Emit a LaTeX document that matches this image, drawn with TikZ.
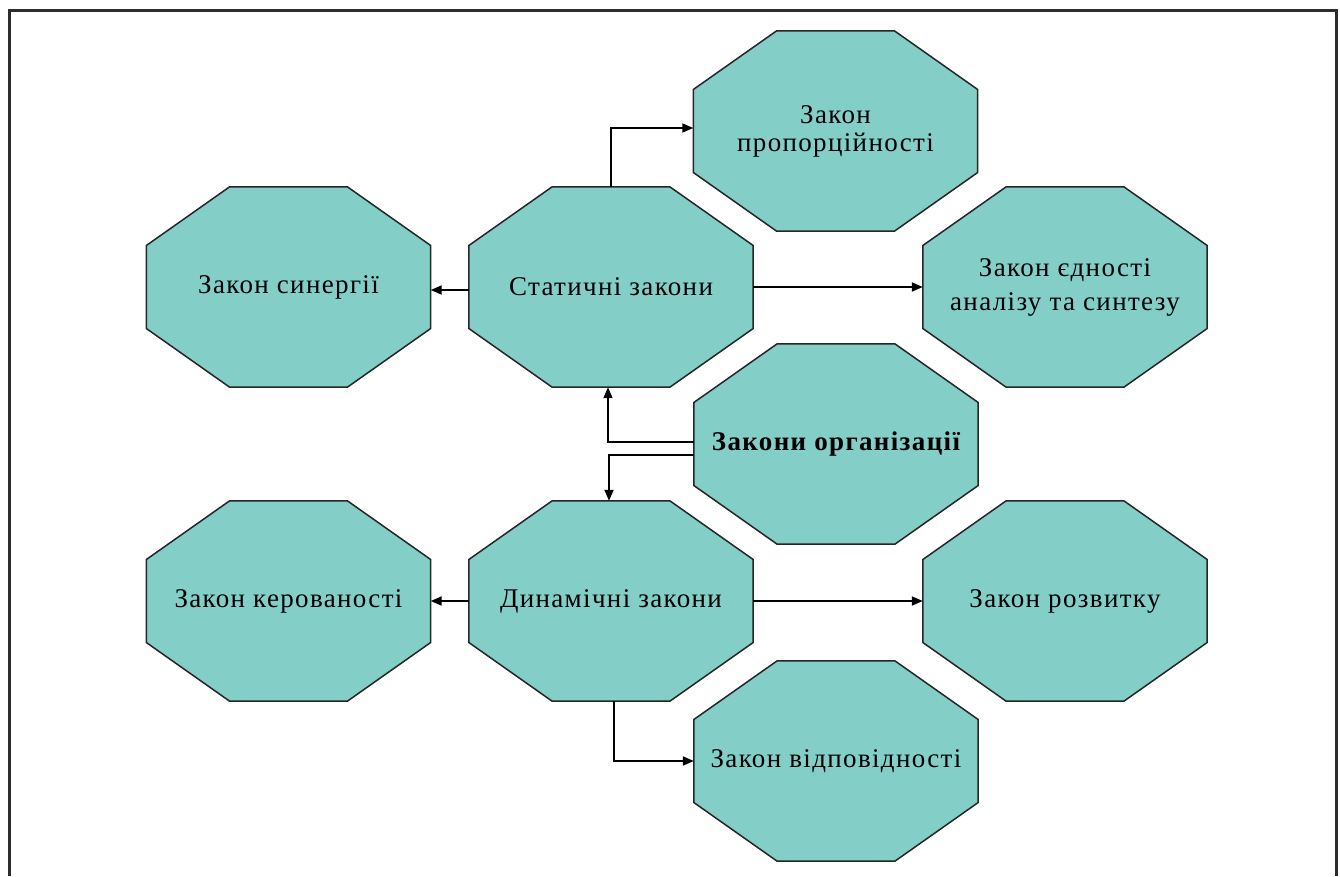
\documentclass[tikz,border=0pt]{standalone}
\usepackage{fontspec}
\setmainfont[LetterSpace=5]{Liberation Serif}
\usetikzlibrary{arrows.meta,calc,backgrounds}
\definecolor{octfill}{RGB}{132,206,200}
\definecolor{framegray}{RGB}{45,45,45}
\tikzset{
  law/.style={rectangle, minimum width=284pt, minimum height=200pt, inner sep=0pt,
    align=center, font=\fontsize{27}{30}\selectfont},
  octshape/.style={fill=octfill, draw=black!85, line width=1.5pt, line join=miter},
  link/.style={draw=black, line width=1.8pt, -{Triangle[length=11pt,width=9pt]}},
}
% octagon inscribed in the rectangle of a node, drawn behind it
\newcommand\octagonbehind[1]{%
  \path[octshape]
    ($(#1.north west)!0.293!(#1.north east)$) --
    ($(#1.north west)!0.707!(#1.north east)$) --
    ($(#1.north east)!0.293!(#1.south east)$) --
    ($(#1.north east)!0.707!(#1.south east)$) --
    ($(#1.south west)!0.707!(#1.south east)$) --
    ($(#1.south west)!0.293!(#1.south east)$) --
    ($(#1.north west)!0.707!(#1.south west)$) --
    ($(#1.north west)!0.293!(#1.south west)$) -- cycle;}
\begin{document}
\begin{tikzpicture}[x=1pt,y=-1pt]
\useasboundingbox (0,0) rectangle (1340,876);

% laws
\node[law] (syn)  at (288.5,287) {Закон синергії};
\node[law] (stat) at (611,287)   {Статичні закони};
\node[law, font=\fontsize{27}{28}\selectfont] (prop) at (835.5,131) {Закон\\пропорційності};
\node[law, font=\fontsize{27}{34}\selectfont] (edn)  at (1065,287)  {Закон єдності\\аналізу та синтезу};
\node[law, font=\fontsize{27}{30}\selectfont\bfseries] (org) at (836,444) {Закони організації};
\node[law] (dyn)  at (611,601) {Динамічні закони};
\node[law] (ker)  at (288.5,601) {Закон керованості};
\node[law] (rozv) at (1065,601)  {Закон розвитку};
\node[law] (vidp) at (836,761)   {Закон відповідності};

\begin{scope}[on background layer]
  \foreach \n in {syn,stat,prop,edn,org,dyn,ker,rozv,vidp} {\octagonbehind{\n}}
\end{scope}

% connectors
\draw[link] (stat.north) |- ([yshift=3pt]prop.west);
\draw[link] ([yshift=-3pt]stat.west) -- ([yshift=-3pt]syn.east);
\draw[link] (stat.east) -- (edn.west);
\draw[link] ([yshift=2pt]org.west) -| ([xshift=-3pt]stat.south);
\draw[link] ([yshift=-11pt]org.west) -| ([xshift=-2pt]dyn.north);
\draw[link] (dyn.west) -- (ker.east);
\draw[link] (dyn.east) -- (rozv.west);
\draw[link] ([xshift=3pt]dyn.south) |- (vidp.west);

% page frame
\draw[framegray, line width=3pt, line join=miter] (9,876) -- (9,10) -- (1336,10) -- (1336,876);
\end{tikzpicture}
\end{document}
